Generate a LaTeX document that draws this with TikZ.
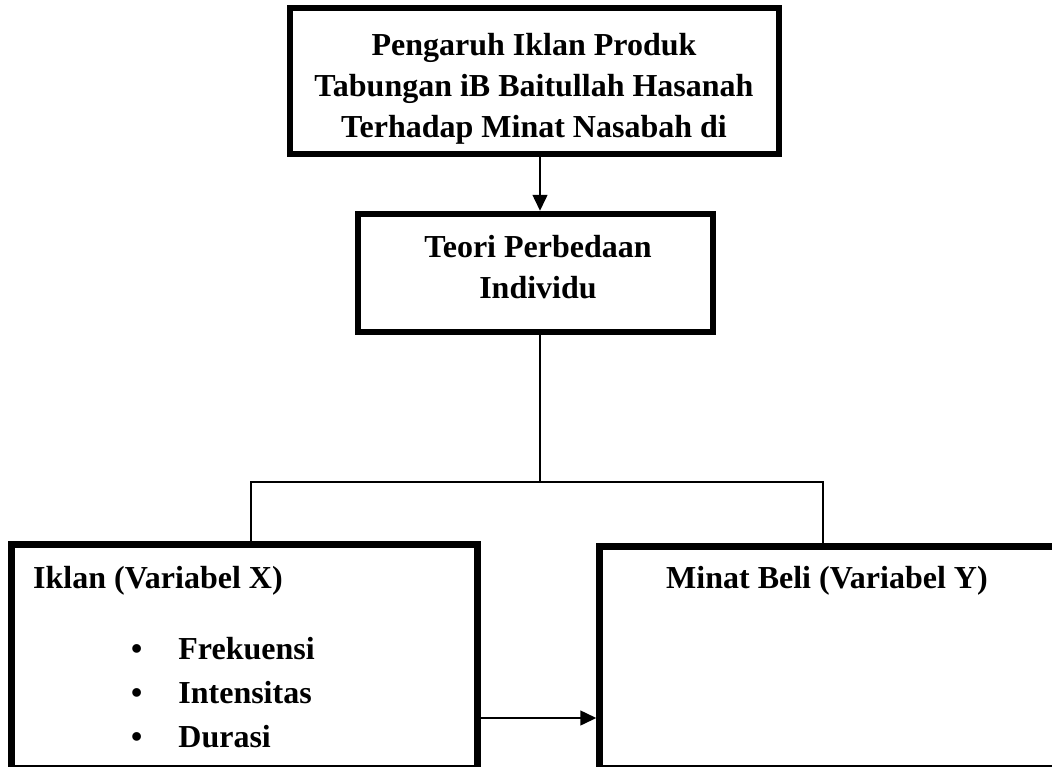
\documentclass[tikz,border=0pt]{standalone}
\usepackage{fontspec}
\setmainfont{Liberation Serif}
\usetikzlibrary{arrows.meta}
\begin{document}
\begin{tikzpicture}[x=1pt,y=-1pt,
  box/.style={draw, line width=6.5pt, rectangle, inner sep=0pt},
  conn/.style={line width=1.5pt},
  arr/.style={conn, -{Triangle[length=16pt,width=15pt]}},
  txt/.style={font=\fontsize{32}{41}\selectfont\bfseries, inner sep=0pt},
  listtxt/.style={font=\fontsize{32}{44}\selectfont\bfseries, inner sep=0pt}]
\useasboundingbox (0,0) rectangle (1052,766);
\clip (0,0) rectangle (1052,766);
% boxes
\node[box, minimum width=489pt, minimum height=146pt] (top) at (534.5,81) {};
\node[box, minimum width=355pt, minimum height=118pt] (mid) at (535.5,273) {};
\node[box, minimum width=466pt, minimum height=223.5pt] (left) at (244.5,656.25) {};
\node[box, minimum width=465.5pt, minimum height=221.5pt] (right) at (832.25,657.25) {};
% texts
\node[txt, anchor=base] (toptxt) at (534,55) {\begin{tabular}[t]{@{}c@{}}Pengaruh Iklan Produk\\ Tabungan iB Baitullah Hasanah\\ Terhadap Minat Nasabah di\end{tabular}};
\node[txt, anchor=base] (midtxt) at (538,257) {\begin{tabular}[t]{@{}c@{}}Teori Perbedaan\\ Individu\end{tabular}};
\node[txt, anchor=base west] (xtxt) at (33,588) {Iklan (Variabel X)};
\node[listtxt, anchor=base west] (xlist) at (131,659) {\begin{tabular}[t]{@{}l@{\hspace{36pt}}l@{}}\textbullet & Frekuensi\\ \textbullet & Intensitas\\ \textbullet & Durasi\end{tabular}};
\node[txt, anchor=base west] (ytxt) at (666,588) {Minat Beli (Variabel Y)};
% connector coordinates
\coordinate (ax) at (540,0);
\coordinate (j) at (540,482);
\coordinate (jl) at (251,482);
\coordinate (jr) at (823,482);
\coordinate (ay) at (0,718);
% connectors
\draw[arr] (top.south -| ax) -- (mid.north -| ax);
\draw[conn] (mid.south -| ax) -- (j);
\draw[conn] (left.north -| jl) -- (jl) -- (jr) -- (right.north -| jr);
\draw[arr] (left.east |- ay) -- (right.west |- ay);
\end{tikzpicture}
\end{document}
